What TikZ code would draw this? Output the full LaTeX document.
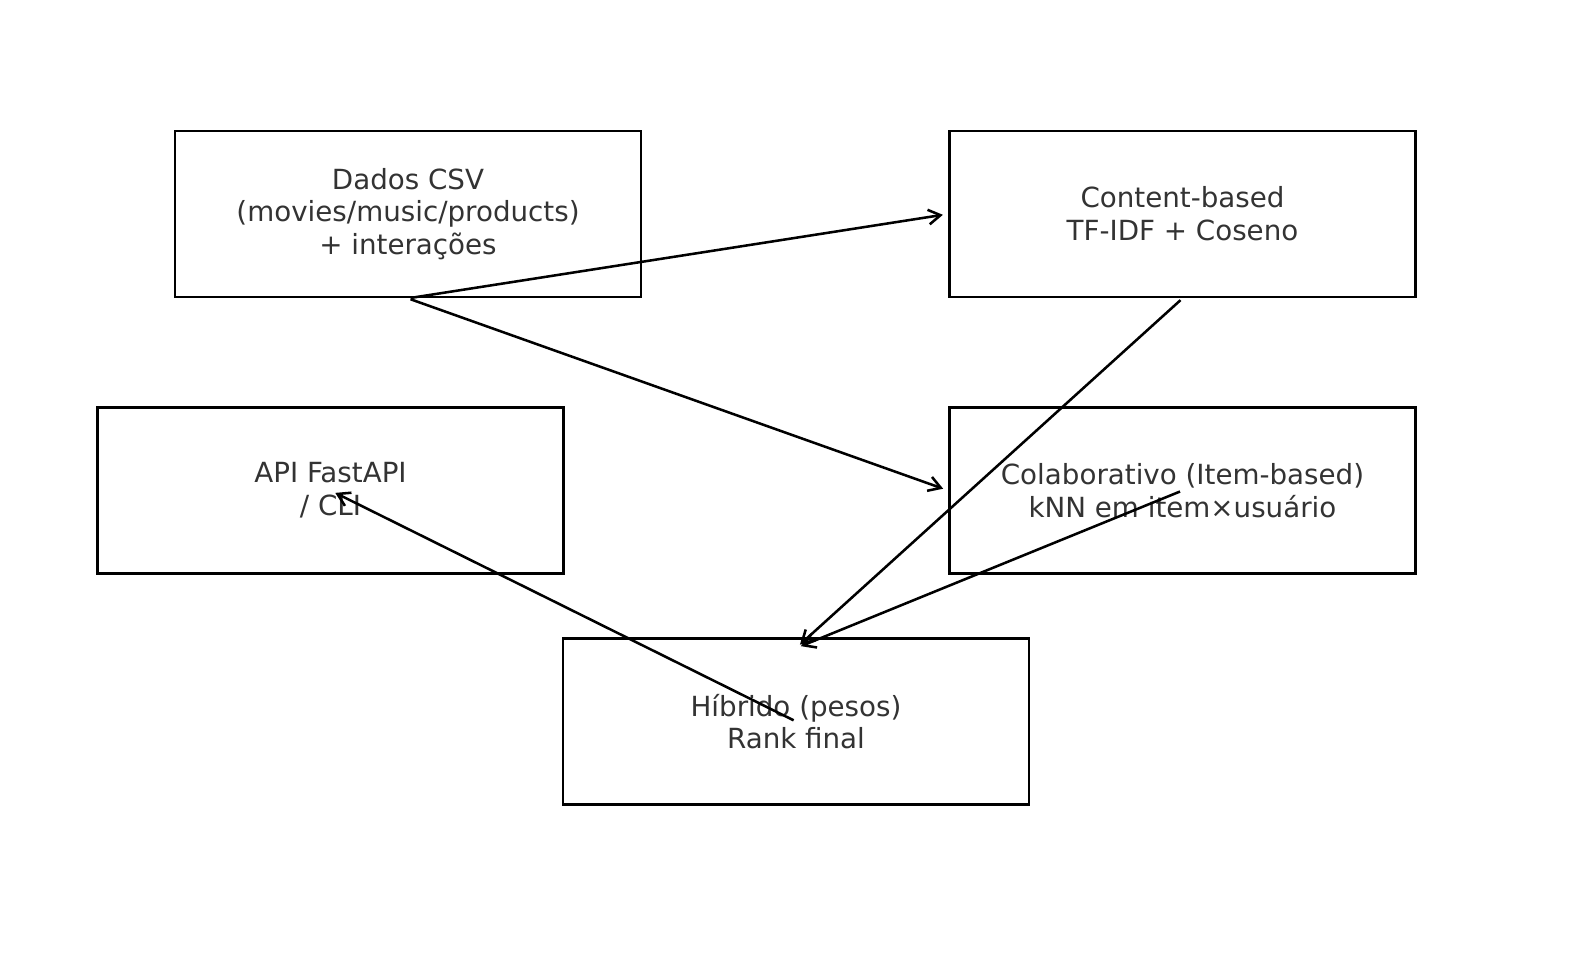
\documentclass[tikz,border=0pt]{standalone}
\usepackage{fontspec}
\setmainfont{DejaVu Sans}
\usetikzlibrary{arrows.meta,calc}

\tikzset{every picture/.style={line width=2pt}}
\tikzset{
  box/.style={draw=black, line width=2pt, minimum width=349.5pt, minimum height=124.5pt, inner sep=0pt, align=center,
    text={rgb,255:red,51;green,51;blue,51}, font=\fontsize{20.8}{24.6}\selectfont},
  flow/.style={draw=black, line width=1.9pt, -{Straight Barb[length=9pt,width=11pt]}, shorten <=2pt, shorten >=4pt}
}

\begin{document}
\begin{tikzpicture}[x=0.75pt,y=0.75pt,yscale=-1,xscale=1]
    \useasboundingbox (0,0) rectangle (1589,964);

    %Shape: Rectangle [id:csv] 
    \node[box] (csv) at (408,214) {Dados CSV\\(movies/music/products)\\+ interações};
    %Shape: Rectangle [id:content] 
    \node[box] (content) at (1182.5,214) {Content-based\\TF-IDF + Coseno};
    %Shape: Rectangle [id:api] 
    \node[box] (api) at (330.5,490.5) {API FastAPI\\/ CLI};
    %Shape: Rectangle [id:colab] 
    \node[box] (colab) at (1182.5,490.5) {Colaborativo (Item-based)\\kNN em item×usuário};
    %Shape: Rectangle [id:hyb] 
    \node[box] (hyb) at (796,721.5) {Híbrido (pesos)\\Rank final};

    %Straight Lines [id:csv-content] 
    \draw[flow] (csv.south) -- (content.west);
    %Straight Lines [id:csv-colab] 
    \draw[flow] (csv.south) -- (colab.west);
    %Straight Lines [id:content-hyb] 
    \draw[flow] (content.south) -- ($(hyb.north)+(0,11)$);
    %Straight Lines [id:colab-hyb] 
    \draw[flow] (colab.center) -- ($(hyb.north)+(0,11)$);
    %Straight Lines [id:hyb-api] 
    \draw[flow] (hyb.center) -- (api.center);

\end{tikzpicture}
\end{document}
